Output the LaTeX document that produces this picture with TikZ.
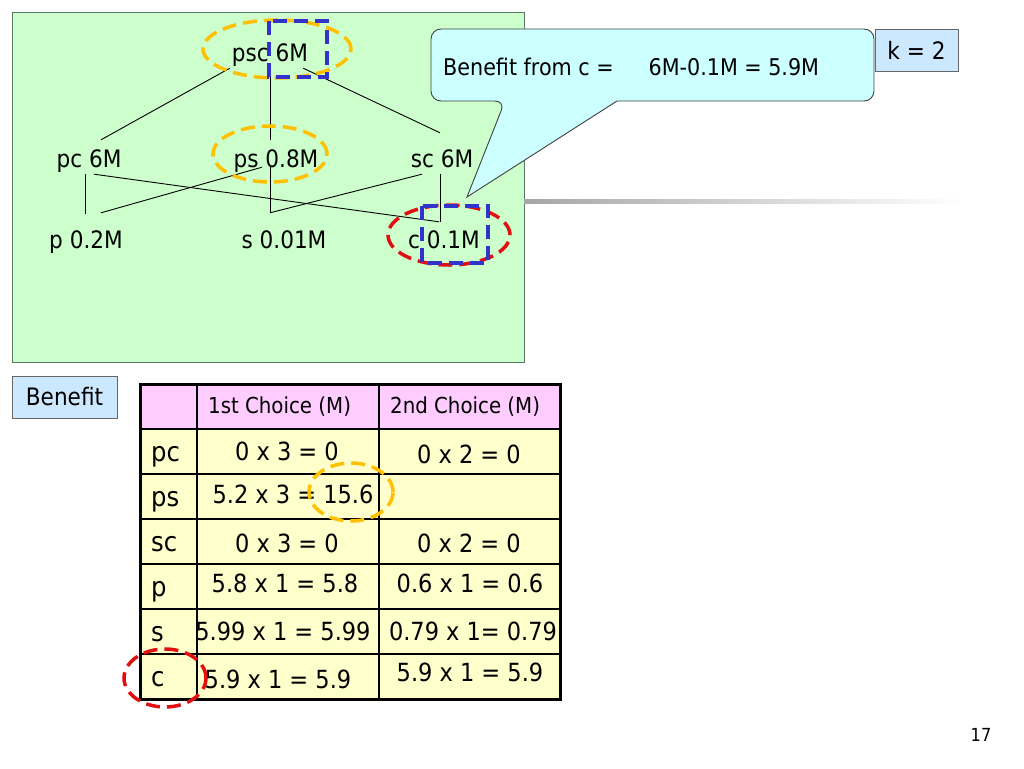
\documentclass[tikz,border=0pt]{standalone}
\usepackage{fontspec}
\setmainfont{DejaVu Sans Condensed}
\definecolor{slidegreen}{HTML}{CCFFCC}
\definecolor{greenedge}{HTML}{5A7A64}
\definecolor{bubble}{HTML}{CCFFFF}
\definecolor{kblue}{HTML}{CCE8FF}
\definecolor{hdpink}{HTML}{FFCCFF}
\definecolor{cellyel}{HTML}{FFFFCC}
\definecolor{ovalyel}{HTML}{FFC000}
\definecolor{ovalred}{HTML}{E01010}
\definecolor{ovalblue}{HTML}{3333CC}
\begin{document}
\begin{tikzpicture}[x=1pt,y=-1pt,
    lat/.style={font=\fontsize{24}{28}\selectfont, inner sep=2pt, text height=18pt, text depth=5pt, anchor=base},
    edge/.style={line width=0.9pt},
    oval/.style={line width=3.5pt, dash pattern=on 14pt off 7pt},
    tag/.style={draw=black!60, fill=kblue, minimum height=42pt, inner sep=0pt, font=\fontsize{24}{28}\selectfont},
    cell/.style={font=\fontsize{25}{30}\selectfont, inner sep=0pt, anchor=base},
    head/.style={font=\fontsize{22}{26}\selectfont, inner sep=0pt, anchor=base west},
    rowlab/.style={font=\fontsize{27}{32}\selectfont, inner sep=0pt, anchor=base west}]
	\useasboundingbox (0,0) rectangle (1024,768);
	% lattice panel
	\draw[greenedge, line width=1pt, fill=slidegreen] (12,13) rectangle (524,362);
	\shade[left color=black!35, right color=white] (524,199.5) rectangle (962,203.5);
	\node[lat] (psc) at (270,61) {psc 6M};
	\node[lat] (pc) at (89,167) {pc 6M}; \node[lat] (ps) at (276,167) {ps 0.8M}; \node[lat] (sc) at (442,167) {sc 6M};
	\node[lat] (p) at (86,248) {p 0.2M}; \node[lat] (s) at (284,248) {s 0.01M}; \node[lat] (c) at (444,248) {c 0.1M};
	\draw[edge] (psc.south west) -- ([xshift=12pt,yshift=7pt]pc.north);
	\draw[edge] (psc.south) -- ([xshift=-6pt,yshift=7pt]ps.north);
	\draw[edge] ([xshift=-7pt]psc.south east) -- ([xshift=-2pt,yshift=14pt]sc.north);
	\draw[edge] ([xshift=-4pt]pc.south) -- ([xshift=-1pt,yshift=14pt]p.north);
	\draw[edge] ([xshift=5pt]pc.south) -- ([xshift=-5pt,yshift=6pt]c.north);
	\draw[edge] ([xshift=-14pt,yshift=7pt]ps.south) -- ([xshift=15pt,yshift=15pt]p.north);
	\draw[edge] ([xshift=-6pt,yshift=8pt]ps.south) -- ([xshift=-14pt,yshift=15pt]s.north);
	\draw[edge] ([xshift=-20pt]sc.south) -- ([xshift=-14pt,yshift=15pt]s.north);
	\draw[edge] ([xshift=-2pt]sc.south) -- ([xshift=-4pt,yshift=6pt]c.north);
	\draw[oval, ovalyel] (277,49) ellipse [x radius=74pt, y radius=29pt];
	\draw[oval, ovalblue] (269,21) rectangle (327,77);
	\draw[oval, ovalyel] (270,154) ellipse [x radius=57pt, y radius=28pt];
	\draw[oval, ovalred] (449,235) ellipse [x radius=61pt, y radius=30pt];
	\draw[oval, ovalblue] (422,206) rectangle (488,263);
	% callout
	\draw[black!75, line width=0.9pt, fill=bubble] (617,101) [rounded corners=10pt] -- (874,101) -- (874,29) -- (431,29) -- (431,101) -- (505,101) [sharp corners] -- (467,197) -- cycle;
	\node[font=\fontsize{23}{28}\selectfont, inner sep=0pt, anchor=base west] (gain) at (443,75) {Benefit from c =\hspace{35pt}6M-0.1M = 5.9M};
	\node[tag, minimum width=83pt] (kval) at (916.5,50) {k = 2};
	% benefit table
	\node[tag, minimum width=105pt] (benefit) at (64.5,397) {Benefit};
	\fill[hdpink] (140,384) rectangle (560,429);
	\fill[cellyel] (140,429) rectangle (560,699);
	\foreach \y in {429,474,519,564,609,654} \draw[line width=1.5pt] (140,\y) -- (560,\y);
	\draw[line width=1.5pt] (197,384) -- (197,699) (379,384) -- (379,699);
	\draw[line width=3pt] (140,384) rectangle (560,699);
	\node[head] (hd1) at (208,413) {1st Choice (M)};
	\node[head] (hd2) at (390,413) {2nd Choice (M)};
	\foreach \t [count=\i] in {pc,ps,sc,p,s,c} \node[rowlab] (lab\t) at (151,{429+45*(\i-1)+32}) {\t};
	\node[cell] (pc1) at (287,460) {0 x 3 = 0}; \node[cell] (pc2) at (469,463) {0 x 2 = 0};
	\node[cell] (ps1) at (293,503) {5.2 x 3 = 15.6};
	\node[cell] (sc1) at (287,552) {0 x 3 = 0}; \node[cell] (sc2) at (469,552) {0 x 2 = 0};
	\node[cell] (p1) at (285,592) {5.8 x 1 = 5.8}; \node[cell] (p2) at (470,592) {0.6 x 1 = 0.6};
	\node[cell] (s1) at (283,640) {5.99 x 1 = 5.99}; \node[cell] (s2) at (473,640) {0.79 x 1= 0.79};
	\node[cell] (c1) at (278,688) {5.9 x 1 = 5.9}; \node[cell] (c2) at (470,681) {5.9 x 1 = 5.9};
	\draw[oval, ovalyel] (351,492) ellipse [x radius=42pt, y radius=29pt];
	\draw[oval, ovalred] (165,678) ellipse [x radius=41pt, y radius=29pt];
	\node[font=\fontsize{18}{22}\selectfont] (pageno) at (981,735) {17};
\end{tikzpicture}
\end{document}
